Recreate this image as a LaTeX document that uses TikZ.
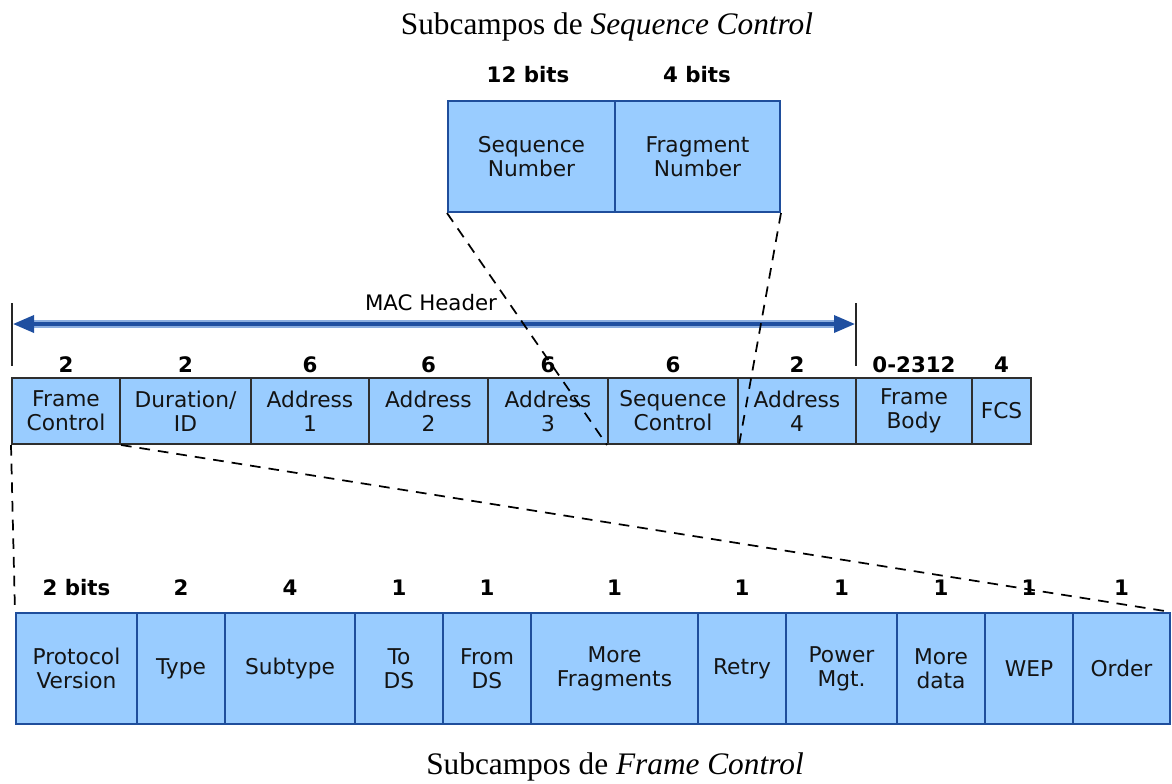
\documentclass[tikz,border=0pt]{standalone}
\usepackage{fontspec}
\setmainfont{Liberation Serif}
\newfontfamily\vfont{DejaVu Sans}
\usetikzlibrary{arrows.meta}
\definecolor{cellfill}{HTML}{99CCFF}
\definecolor{blueedge}{HTML}{1F4E9C}
\definecolor{grayedge}{HTML}{2E2E2E}
\definecolor{arrowdark}{HTML}{1F4FA0}
\definecolor{arrowlight}{HTML}{8DAFE0}
\tikzset{
  cell/.style={draw, fill=cellfill, line width=1.5, inner sep=0pt, align=center,
    font=\vfont\fontsize{16.3}{18}\selectfont, text=black!92},
  bluecell/.style={cell, draw=blueedge},
  graycell/.style={cell, draw=grayedge},
  bitlabel/.style={font=\vfont\bfseries\fontsize{16}{18}\selectfont, inner sep=0pt},
  plainlabel/.style={font=\vfont\fontsize{16}{18}\selectfont, inner sep=0pt},
  caption/.style={font=\fontsize{23.5}{28}\selectfont, inner sep=0pt},
  zoomline/.style={dashed, dash pattern=on 8 off 6, line width=1.3},
  bar/.style={line width=1.6, draw=black!85},
}
\begin{document}
\begin{tikzpicture}[x=0.75pt, y=-0.75pt]
\useasboundingbox (0,0) rectangle (1172,783);

% caption of the upper detail
\node[caption] (capseq) at (607,27) {Subcampos de \textit{Sequence Control}};

% Sequence Control subfields
\node[bluecell, minimum width=167*0.75pt, minimum height=111*0.75pt] (sn) at (531.5,156.5) {Sequence\\Number};
\node[bluecell, minimum width=165*0.75pt, minimum height=111*0.75pt] (fn) at (697.5,156.5) {Fragment\\Number};
\node[bitlabel] (snb) at (528,75) {12 bits};
\node[bitlabel] (fnb) at (697,75) {4 bits};

% MAC header span
\coordinate (mhtopL) at (12,303);
\coordinate (mhbotL) at (12,366);
\coordinate (mhtopR) at (856,303);
\coordinate (mhbotR) at (856,366);
\coordinate (mhL) at (13,324);
\coordinate (mhR) at (855,324);
\draw[bar] (mhtopL) -- (mhbotL);
\draw[bar] (mhtopR) -- (mhbotR);
\draw[arrowlight, line width=5.5] ([xshift=15]mhL) -- ([xshift=-15]mhR);
\draw[arrowdark, line width=2.6, {Triangle[length=21*0.75pt, width=17*0.75pt]}-{Triangle[length=21*0.75pt, width=17*0.75pt]}] (mhL) -- (mhR);
\node[plainlabel] (mhlabel) at (431,303) {MAC Header};

% MAC frame fields
\foreach \name/\xa/\xb/\txt/\bits in {
  fc/12/120/{Frame\\Control}/2,
  dur/120/251/{Duration/\\ID}/2,
  aone/251/369/{Address\\1}/6,
  atwo/369/488/{Address\\2}/6,
  athree/488/608/{Address\\3}/6,
  sc/608/738/{Sequence\\Control}/6,
  afour/738/856/{Address\\4}/2,
  fb/856/972/{Frame\\Body}/0-2312,
  fcs/972/1031/{FCS}/4}{
  \node[graycell, minimum width={(\xb-\xa)*0.75pt}, minimum height=66*0.75pt]
    (\name) at ({(\xa+\xb)/2},411) {\txt};
  \node[bitlabel] (\name-bits) at ({(\xa+\xb)/2},365) {\bits};
}

% Frame Control subfields
\foreach \name/\xa/\xb/\txt/\bits in {
  pv/16/137/{Protocol\\Version}/2 bits,
  ty/137/225/{Type}/2,
  st/225/355/{Subtype}/4,
  tds/355/443/{To\\DS}/1,
  fds/443/531/{From\\DS}/1,
  mf/531/698/{More\\Fragments}/1,
  rt/698/786/{Retry}/1,
  pm/786/897/{Power\\Mgt.}/1,
  md/897/985/{More\\data}/1,
  wep/985/1073/{WEP}/1,
  ord/1073/1170/{Order}/1}{
  \node[bluecell, minimum width={(\xb-\xa)*0.75pt}, minimum height=111*0.75pt]
    (\name) at ({(\xa+\xb)/2},668.5) {\txt};
  \node[bitlabel] (\name-bits) at ({(\xa+\xb)/2},588) {\bits};
}

% zoom lines
\draw[zoomline] (sn.south west) -- (sc.south west);
\draw[zoomline] (fn.south east) -- (sc.south east);
\draw[zoomline] (fc.south west) -- (pv.north west);
\draw[zoomline] (fc.south east) -- (ord.north east);

% caption of the lower detail
\node[caption] (capfc) at (615,767) {Subcampos de \textit{Frame Control}};
\end{tikzpicture}
\end{document}
